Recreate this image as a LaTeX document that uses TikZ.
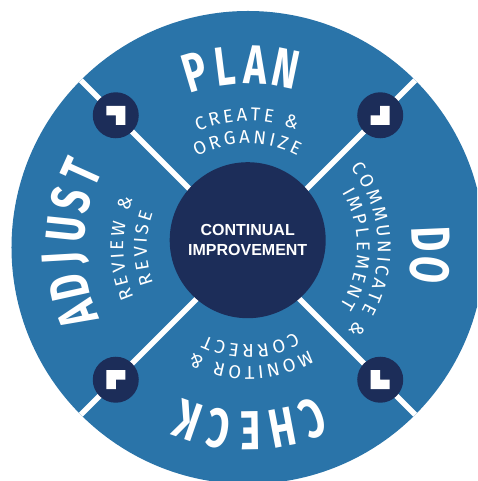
\documentclass[tikz,border=0pt]{standalone}
\usepackage{fontspec}
\setmainfont{Liberation Sans}
\newfontfamily\wordfont{Fira Sans}
\newfontfamily\subfont{Fira Sans}
\definecolor{ringblue}{HTML}{2A74A9}
\definecolor{navy}{HTML}{1C2D59}
\tikzset{
  bigletter/.style={text=white, inner sep=0pt, font=\wordfont\bfseries\fontsize{55}{55}\selectfont},
  subletter/.style={text=white, inner sep=0pt, anchor=base, font=\subfmt},
  marker/.style={circle, fill=navy, minimum size=46pt, inner sep=0pt},
  divider/.style={white, line width=5.5pt},
  hub/.style={circle, fill=navy, minimum size=156pt, inner sep=0pt, text=white, align=center,
    font=\bfseries\fontsize{16}{20}\selectfont},
}
\newcommand\subfmt{\subfont\fontsize{18.5}{18.5}\selectfont}
\newcommand\track{3pt}
\newlength\linelen
\newlength\charlen
% width of one small letter, measured outside the picture font
\newcommand\measure[1]{%
  \pgfinterruptpicture\settowidth\charlen{\subfmt#1}\global\charlen=\charlen\endpgfinterruptpicture}
% one heavy word, letter by letter round the ring
\newcommand\bigword[5]{%
  \foreach \ch [count=\i] in {#2} {
    \pgfmathsetmacro\ang{#4+(#3+1)/2*#5-\i*#5}
    \node[bigletter, rotate=\ang-90, xscale=0.7] (#1-\i) at (\ang:183) {\ch};
  }}
% one line of small letters on an arc, clockwise
\newcommand\subline[4]{%
  \global\linelen=-\track
  \foreach \ch in {#4} {%
    \measure{\ch}%
    \global\advance\linelen by \charlen
    \global\advance\linelen by \track
  }%
  \pgfmathsetmacro\tmp{#2+0.5*\linelen/#3*180/pi}%
  \xdef\pos{\tmp}%
  \foreach \ch [count=\i] in {#4} {%
    \measure{\ch}%
    \pgfmathsetmacro\ang{\pos-0.5*\charlen/#3*180/pi}%
    \node[subletter, rotate=\ang-90] (#1-\i) at (\ang:#3) {\ch};
    \pgfmathsetmacro\tmp{\pos-(\charlen+\track)/#3*180/pi}%
    \xdef\pos{\tmp}%
  }}

\begin{document}
\begin{tikzpicture}[x=1pt, y=1pt]
\useasboundingbox (-248,-233.5) rectangle (229,247.5);
\clip (-248,-233.5) rectangle (229,247.5);
\fill[ringblue] (0,0) circle[radius=236.5];
\coordinate (O) at (0,0);
\foreach \ang [count=\i] in {45,135,225,315} {
  \coordinate (rim-\i) at (\ang:236.5);
  \draw[divider] (O) -- (rim-\i);
}
\foreach \ang [count=\i] in {45,135,225,315} {
  \node[marker] (m-\i) at (\ang:187) {};
  \fill[white, shift={(m-\i.center)}, rotate=\ang+45]
    (-9.5,-9.5) -- (9.5,-9.5) -- (9.5,0) -- (0,0) -- (0,9.5) -- (-9.5,9.5) -- cycle;
}
\node[hub] (hub) at (-0.3,7.3) {CONTINUAL\\IMPROVEMENT};
% words
\bigword{plan}{P,L,A,N}{4}{92.4}{9.5}
\bigword{do}{D,O}{2}{-2.3}{9.5}
\bigword{check}{C,H,E,C,K}{5}{-89.2}{10}
\bigword{adjust}{A,D,J,U,S,T}{6}{178.7}{9.2}
% small lines
\subline{create}{90.5}{126.5}{C,R,E,A,T,E,\ ,\&}
\subline{organize}{90.5}{104}{O,R,G,A,N,I,Z,E}
\subline{communicate}{-1}{130}{C,O,M,M,U,N,I,C,A,T,E,\ ,\&}
\subline{implement}{-1}{109}{I,M,P,L,E,M,E,N,T}
\subline{monitor}{-88.5}{119}{M,O,N,I,T,O,R,\ ,\&}
\subline{correct}{-88.5}{97.5}{C,O,R,R,E,C,T}
\subline{review}{180.3}{124.7}{R,E,V,I,E,W,\ ,\&}
\subline{revise}{180.3}{101.3}{R,E,V,I,S,E}
\end{tikzpicture}
\end{document}
